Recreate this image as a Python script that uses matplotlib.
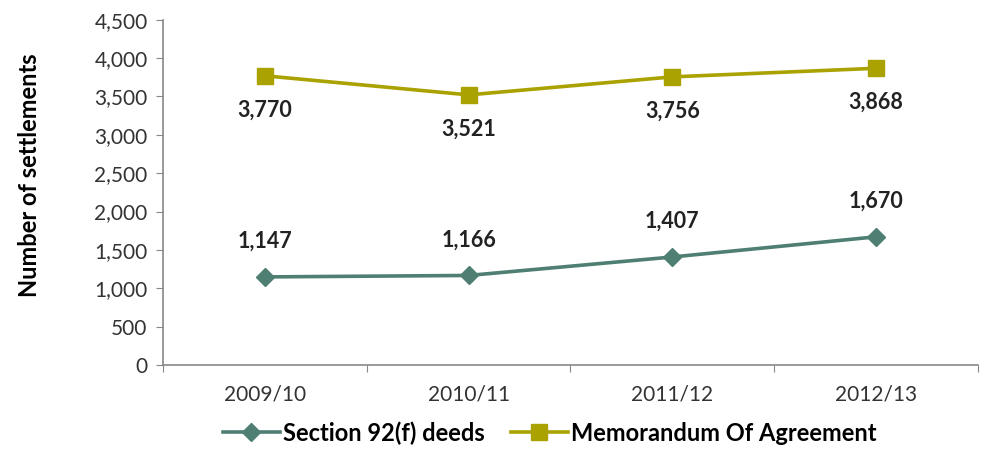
import matplotlib.pyplot as plt
from matplotlib.ticker import FuncFormatter, FixedLocator

years = ['2009/10', '2010/11', '2011/12', '2012/13']
section_92f = [1147, 1166, 1407, 1670]
moa = [3770, 3521, 3756, 3868]

teal = '#4e7f72'
olive = '#aaa200'

plt.rcParams['font.family'] = ['Lato', 'DejaVu Sans']

fig = plt.figure(figsize=(9.87, 4.72), dpi=100)
ax = fig.add_axes([0.165, 0.227, 0.826, 0.731])

x = [i + 0.5 for i in range(len(years))]
ax.plot(x, section_92f, color=teal, lw=2.6, marker='D', ms=9,
        label='Section 92(f) deeds')
ax.plot(x, moa, color=olive, lw=2.6, marker='s', ms=11,
        label='Memorandum Of Agreement')

# value labels: above the deeds line, below the agreements line
for xi, v in zip(x, section_92f):
    ax.annotate(f'{v:,}', (xi, v), xytext=(0, 18), textcoords='offset points',
                ha='center', va='bottom', fontsize=15.5, fontweight='bold',
                color='#222222')
for xi, v in zip(x, moa):
    ax.annotate(f'{v:,}', (xi, v), xytext=(0, -17), textcoords='offset points',
                ha='center', va='top', fontsize=15.5, fontweight='bold',
                color='#222222')

ax.set_xlim(0, len(years))
ax.set_ylim(0, 4500)
ax.set_yticks(range(0, 4501, 500))
ax.yaxis.set_major_formatter(FuncFormatter(lambda v, p: f'{int(v):,}'))
ax.xaxis.set_major_locator(FixedLocator(range(len(years) + 1)))
ax.xaxis.set_minor_locator(FixedLocator(x))
ax.set_xticklabels([])
ax.set_xticklabels(years, minor=True)
ax.tick_params(axis='x', which='minor', length=0, pad=14, labelsize=15,
               labelcolor='#333333')
ax.tick_params(axis='x', which='major', length=5, color='#888888')
ax.tick_params(axis='y', length=5, color='#888888', labelsize=15,
               labelcolor='#333333', pad=6)

for s in ['top', 'right']:
    ax.spines[s].set_visible(False)
for s in ['left', 'bottom']:
    ax.spines[s].set_color('#888888')
    ax.spines[s].set_linewidth(1.2)

ax.set_ylabel('Number of settlements', fontsize=17, fontweight='bold')
ax.yaxis.set_label_coords(-0.15, 0.55)

fig.legend(loc='center', bbox_to_anchor=(0.557, 0.083), ncol=2, frameon=False,
           prop={'size': 17, 'weight': 'bold'}, handlelength=2.4,
           columnspacing=1.1, handletextpad=0.15)

fig.savefig('out.png', dpi=100)
